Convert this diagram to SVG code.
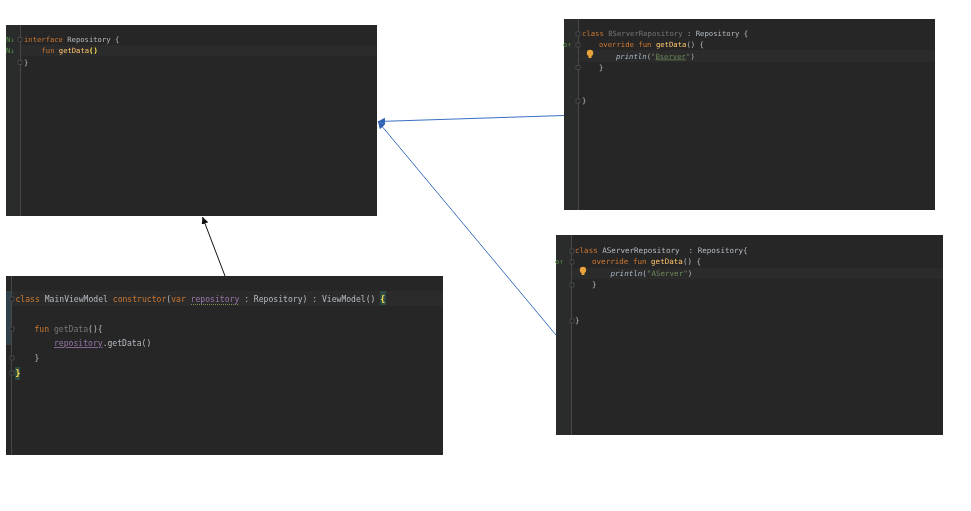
<svg xmlns="http://www.w3.org/2000/svg" width="971" height="511" viewBox="0 0 971 511">
<style>
.bg{fill:#262626}
.hl{fill:#2b2b2b}
.gut{stroke:#464849;stroke-width:1;fill:none}
.g{fill:#2a2b2b}
text{font-family:"DejaVu Sans Mono","Liberation Mono",monospace;white-space:pre;filter:blur(.25px)}
.s{font-size:7.2px}
.b{font-size:7.27px}
.a{font-size:7.55px}
.m{font-size:8.09px}
.k{fill:#cc7832}
.w{fill:#b4bbc2}
.d{fill:#72777b}
.f{fill:#ffc66d}
.y{fill:#ffe54a;font-weight:bold}
.p{fill:#9876aa}
.t{fill:#6a8759}
.i{fill:#a9b7c6;font-style:italic}
.fold{fill:#262626;stroke:#55585a;stroke-width:.6}
.bulb{fill:#e8a33a}
.ic{fill:#5a8f4a}
.bl{stroke:#3a6fc0;stroke-width:1;fill:none}
.bk{stroke:#111;stroke-width:1;fill:none}
.wavy{stroke:#a0a060;stroke-width:.8;stroke-dasharray:1 1;fill:none}
</style>
<defs>
<marker id="ab" markerWidth="8" markerHeight="8" refX="7" refY="3.5" orient="auto" markerUnits="userSpaceOnUse"><path d="M0 0L7 3.5L0 7z" fill="#2f62b5"/></marker>
<marker id="ak" markerWidth="8" markerHeight="8" refX="7" refY="3.5" orient="auto" markerUnits="userSpaceOnUse"><path d="M0 0L7 3.5L0 7z" fill="#111"/></marker>
</defs>
<rect width="971" height="511" fill="#fff"/>
<g id="repository-interface">
<rect class="bg" x="6" y="25" width="371" height="191"/>
<rect class="g" x="6" y="25" width="14" height="191"/>
<rect class="hl" x="20" y="45" width="357" height="11"/>
<path class="gut" d="M20.500 25V216"/>
<rect class="fold" x="18" y="37.500" width="4" height="4"/>
<rect class="fold" x="18" y="60.500" width="4" height="4"/>
<text class="s ic" x="6" y="42">N↓</text>
<text class="s ic" x="6" y="53">N↓</text>
<text class="s" x="24" y="42"><tspan class="k">interface </tspan><tspan class="w">Repository {</tspan></text>
<text class="s" x="41.500" y="53"><tspan class="k">fun </tspan><tspan class="f">getData</tspan><tspan class="y">()</tspan></text>
<text class="s w" x="24" y="64.500">}</text>
</g>
<g id="bserver-repository">
<rect class="bg" x="564" y="19" width="371" height="191"/>
<rect class="g" x="564" y="19" width="14" height="191"/>
<rect class="hl" x="578" y="50" width="357" height="12"/>
<path class="gut" d="M578.500 19V210"/>
<rect class="fold" x="576" y="32" width="4" height="4"/>
<rect class="fold" x="576" y="43" width="4" height="4"/>
<rect class="fold" x="576" y="65.500" width="4" height="4"/>
<rect class="fold" x="576" y="99" width="4" height="4"/>
<text class="s ic" x="563" y="47">o↑</text>
<circle class="bulb" cx="590" cy="53" r="3.200"/>
<rect class="bulb" x="588.500" y="56" width="3" height="2"/>
<text class="b" x="582" y="36"><tspan class="k">class </tspan><tspan class="d">BServerRepository</tspan><tspan class="w"> : Repository {</tspan></text>
<text class="b" x="599" y="47"><tspan class="k">override fun </tspan><tspan class="f">getData</tspan><tspan class="w">() {</tspan></text>
<text class="b" x="616" y="58.500"><tspan class="i">println</tspan><tspan class="w">(</tspan><tspan class="t">"</tspan><tspan class="t" text-decoration="underline">Bserver</tspan><tspan class="t">"</tspan><tspan class="w">)</tspan></text>
<text class="b w" x="599" y="70">}</text>
<text class="b w" x="582" y="103">}</text>
</g>
<g id="aserver-repository">
<rect class="bg" x="556" y="235" width="387" height="200"/>
<rect class="g" x="556" y="235" width="16" height="200"/>
<rect class="hl" x="572" y="268" width="371" height="11"/>
<path class="gut" d="M571.500 235V435"/>
<rect class="fold" x="570" y="249" width="4" height="4"/>
<rect class="fold" x="570" y="260" width="4" height="4"/>
<rect class="fold" x="570" y="283" width="4" height="4"/>
<rect class="fold" x="570" y="319" width="4" height="4"/>
<text class="s ic" x="555" y="264">o↑</text>
<circle class="bulb" cx="583" cy="270" r="3.200"/>
<rect class="bulb" x="581.500" y="273" width="3" height="2"/>
<text class="a" x="575" y="252.500"><tspan class="k">class </tspan><tspan class="w">AServerRepository  : Repository{</tspan></text>
<text class="a" x="592" y="264"><tspan class="k">override fun </tspan><tspan class="f">getData</tspan><tspan class="w">() {</tspan></text>
<text class="a" x="610.500" y="276"><tspan class="i">println</tspan><tspan class="w">(</tspan><tspan class="t">"AServer"</tspan><tspan class="w">)</tspan></text>
<text class="a w" x="592" y="287">}</text>
<text class="a w" x="575" y="323">}</text>
</g>
<g id="main-view-model">
<rect class="bg" x="6" y="276" width="437" height="179"/>
<rect x="6" y="291" width="6" height="54" fill="#2f4048"/>
<rect class="hl" x="12" y="291" width="431" height="15"/>
<path class="gut" d="M11.500 276V455"/>
<rect class="fold" x="10" y="297" width="4" height="4"/>
<rect class="fold" x="10" y="327" width="4" height="4"/>
<rect class="fold" x="10" y="356" width="4" height="4"/>
<rect class="fold" x="10" y="371" width="4" height="4"/>
<rect x="15" y="367" width="5" height="13" fill="#2f4a44"/>
<rect x="380" y="291" width="6" height="14" fill="#2f4a44"/>
<path class="wavy" d="M191 304.500H239"/>
<text class="m" x="15.500" y="302"><tspan class="k">class </tspan><tspan class="w">MainViewModel </tspan><tspan class="k">constructor</tspan><tspan class="w">(</tspan><tspan class="k">var </tspan><tspan class="p">repository</tspan><tspan class="w"> : Repository) : ViewModel() </tspan><tspan class="y">{</tspan></text>
<text class="m" x="34.500" y="331.500"><tspan class="k">fun </tspan><tspan class="d">getData</tspan><tspan class="w">(){</tspan></text>
<text class="m" x="54" y="346"><tspan class="p" text-decoration="underline">repository</tspan><tspan class="w">.getData()</tspan></text>
<text class="m w" x="34.500" y="361">}</text>
<text class="m y" x="15.500" y="376">}</text>
</g>
<g id="connectors">
<path class="bl" d="M564 115.500L378 121.500" marker-end="url(#ab)"/>
<path class="bl" d="M556 335L378 121.500" marker-end="url(#ab)"/>
<path class="bk" d="M225 276L202.500 217" marker-end="url(#ak)"/>
</g>
</svg>
